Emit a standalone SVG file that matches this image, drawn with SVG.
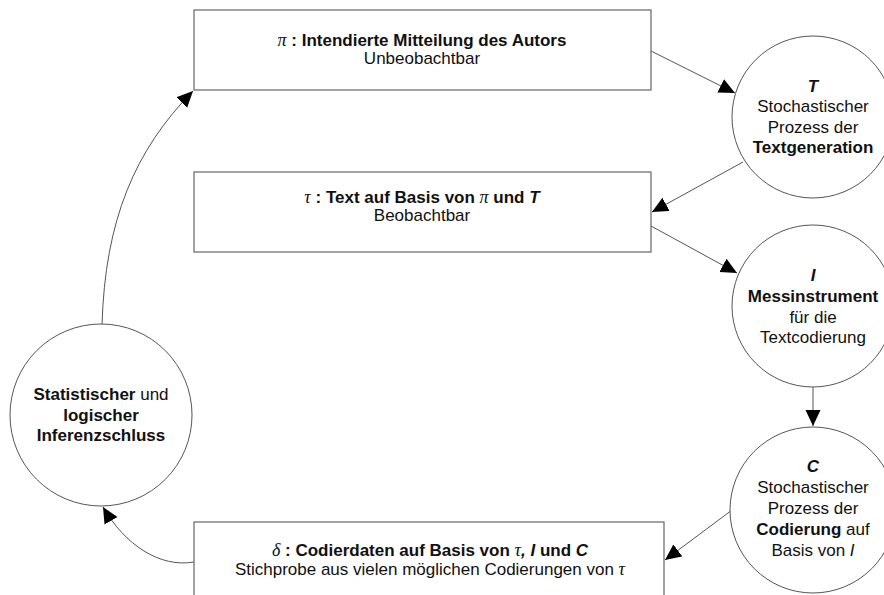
<svg xmlns="http://www.w3.org/2000/svg" width="884" height="595" viewBox="0 0 884 595">
<style>
.box{fill:#fff;stroke:#666;stroke-width:1.2}
.node{fill:#fff;stroke:#555;stroke-width:1}
.c{fill:none;stroke:#555;stroke-width:1}
text{font-family:"Liberation Sans",Arial,sans-serif;font-size:17px;fill:#111;text-anchor:middle}
.b{font-weight:bold}
.g{font-family:"Liberation Serif","Times New Roman",serif;font-style:italic;font-weight:normal;font-size:18px}
.bi{font-weight:bold;font-style:italic}
.n{font-weight:normal}
</style>
<defs>
<marker id="ah" markerUnits="userSpaceOnUse" markerWidth="18" markerHeight="16" refX="16" refY="7.5" orient="auto">
<path d="M0,0 L16,7.5 L0,15 Z" fill="#000"/>
</marker>
</defs>
<rect width="884" height="595" fill="#fff"/>
<g id="connectors">
<path class="c" d="M102,325 C105,220 135,150 193,91" marker-end="url(#ah)"/>
<path class="c" d="M194,562 C160,568 125,545 103,507" marker-end="url(#ah)"/>
<path class="c" d="M651,51 L735,93" marker-end="url(#ah)"/>
<path class="c" d="M743,162 L652,212" marker-end="url(#ah)"/>
<path class="c" d="M651,226 L737,273" marker-end="url(#ah)"/>
<path class="c" d="M813,387 L813,426" marker-end="url(#ah)"/>
<path class="c" d="M732,510 L665,560" marker-end="url(#ah)"/>
</g>
<g id="box-pi">
<rect class="box" x="194" y="10" width="457" height="80"/>
<text x="422" y="46" class="b"><tspan class="g">π</tspan> : Intendierte Mitteilung des Autors</text>
<text x="422" y="64">Unbeobachtbar</text>
</g>
<g id="box-tau">
<rect class="box" x="194" y="172" width="457" height="80"/>
<text x="422" y="203" class="b"><tspan class="g">τ</tspan> : Text auf Basis von <tspan class="g">π</tspan> und <tspan class="bi">T</tspan></text>
<text x="422" y="221">Beobachtbar</text>
</g>
<g id="box-delta">
<rect class="box" x="194" y="522" width="470" height="80"/>
<text x="430" y="556" class="b"><tspan class="g">δ</tspan> : Codierdaten auf Basis von <tspan class="g">τ</tspan><tspan class="bi">, I</tspan> und <tspan class="bi">C</tspan></text>
<text x="430" y="575">Stichprobe aus vielen möglichen Codierungen von <tspan class="g">τ</tspan></text>
</g>
<g id="node-T">
<circle class="node" cx="813" cy="117" r="81"/>
<text x="813" y="92" class="bi">T</text>
<text x="813" y="112">Stochastischer</text>
<text x="813" y="133">Prozess der</text>
<text x="813" y="153" class="b">Textgeneration</text>
</g>
<g id="node-I">
<circle class="node" cx="813" cy="306" r="81"/>
<text x="813" y="281" class="bi">I</text>
<text x="813" y="302" class="b">Messinstrument</text>
<text x="813" y="323">für die</text>
<text x="813" y="343">Textcodierung</text>
</g>
<g id="node-C">
<circle class="node" cx="813" cy="510" r="83"/>
<text x="813" y="472" class="bi">C</text>
<text x="813" y="493">Stochastischer</text>
<text x="813" y="514">Prozess der</text>
<text x="813" y="535"><tspan class="b">Codierung</tspan> auf</text>
<text x="813" y="556">Basis von <tspan font-style="italic">I</tspan></text>
</g>
<g id="node-inferenz">
<circle class="node" cx="101" cy="415" r="91"/>
<text x="101" y="400" class="b">Statistischer <tspan class="n">und</tspan></text>
<text x="101" y="421" class="b">logischer</text>
<text x="101" y="441" class="b">Inferenzschluss</text>
</g>
</svg>
